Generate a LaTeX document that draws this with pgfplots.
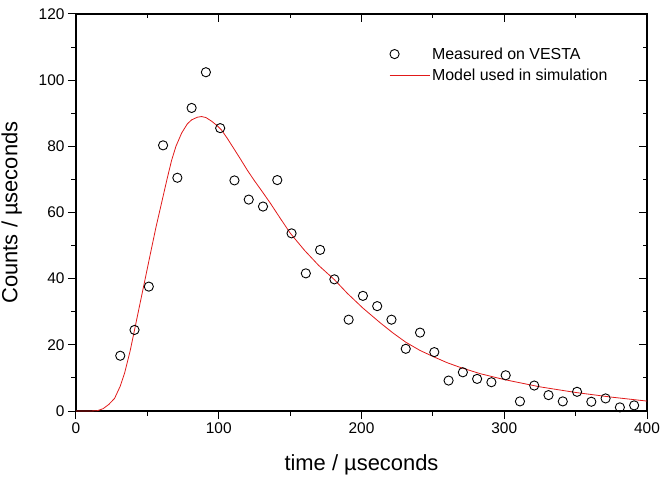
\documentclass[border=0pt]{standalone}
\usepackage{fontspec}
\setmainfont{Liberation Sans}
\usepackage{pgfplots}
\pgfplotsset{compat=1.18}
\definecolor{modelred}{RGB}{225,25,25}

% measured count rate, VESTA
\pgfplotstableread{
t    c
31   16.7
41   24.5
51   37.6
61   80.3
71   70.5
81   91.6
91   102.4
101  85.5
111  69.7
121  63.9
131  61.8
141  69.8
151  53.7
161  41.6
171  48.7
181  39.8
191  27.6
201  34.8
211  31.7
221  27.6
231  18.8
241  23.7
251  17.8
261  9.2
271  11.7
281  9.7
291  8.7
301  10.8
311  2.9
321  7.7
331  4.8
341  2.9
351  5.8
361  2.8
371  3.8
381  1.1
391  1.7
}\measured

% pulse shape used by the simulation
\pgfplotstableread{
t    c
0    0
10   0
15   0.1
19   0.7
23   2.0
27   3.8
31   7.5
34   11.4
38   18.3
41   24.5
45   32.8
48   39.0
52   47.3
56   55.5
60   63.0
64   70.5
67   75.8
70   80.0
74   84.0
78   86.8
81   88.0
85   88.8
88   89.0
91   88.7
95   87.6
99   86.2
102  84.9
106  82.4
110  79.7
115  76.3
120  72.8
125  69.6
130  66.6
136  62.9
143  58.3
150  53.8
160  48.6
170  44.0
181  39.7
190  35.6
201  31.1
213  26.7
222  23.6
231  20.8
241  18.3
251  16.3
260  14.6
269  13.2
283  11.3
300  9.5
325  7.3
350  5.6
375  4.2
400  3.0
}\model

\pgfplotsset{
  frame/.style={
    width=571bp, height=397bp, scale only axis,
    at={(0,0)}, anchor=south west,
    xmin=0, xmax=400, ymin=0, ymax=120,
    xtick={0,100,...,400}, ytick={0,20,...,120},
    minor x tick num=1, minor y tick num=1,
    major tick length=8bp, minor tick length=4.5bp,
    axis line style={line width=1.1bp},
    every tick/.append style={black, line width=1bp},
  },
  markkey/.style={legend image code/.code={%
    \path (0bp,0bp) (40bp,0bp);
    \draw[##1] plot coordinates {(5bp,0bp)};}},
  linekey/.style={legend image code/.code={%
    \draw[##1] (0bp,0bp) -- (40bp,0bp);}},
}

\begin{document}
\begin{tikzpicture}
% outer frame: outward ticks, labels
\begin{axis}[
  frame,
  tick align=outside, xtick pos=left, ytick pos=left,
  /pgf/number format/assume math mode=true,
  ticklabel style={font=\fontsize{15.5}{18}\selectfont},
  xlabel={time / µseconds},
  ylabel={Counts / µseconds},
  label style={font=\fontsize{22}{26}\selectfont},
  xlabel style={at={(axis description cs:0.5,-0.151)}, anchor=base},
  ylabel style={at={(axis description cs:-0.1025,0.5)}, anchor=base},
]
\end{axis}
% inner ticks on top and right, data drawn over the frame
\begin{axis}[
  frame,
  tick align=inside, xtick pos=right, ytick pos=right,
  xticklabels={}, yticklabels={},
  clip=false,
  legend style={
    at={(axis description cs:0.548,0.921)}, anchor=north west,
    draw=none, fill=none, inner sep=0pt,
    font=\fontsize{16}{19}\selectfont,
    row sep=4.5bp,
  },
  legend cell align=left,
]
\addplot[only marks, mark=o, mark size=4.6bp, black, line width=0.9bp, markkey]
  table[x=t, y=c] {\measured};
\addlegendentry{Measured on VESTA}
\addplot[modelred, line width=0.8bp, mark=none, linekey]
  table[x=t, y=c] {\model};
\addlegendentry{Model used in simulation}
\end{axis}
\pgfresetboundingbox
\useasboundingbox (-76bp,-67bp) rectangle (588bp,411bp);
\end{tikzpicture}
\end{document}
